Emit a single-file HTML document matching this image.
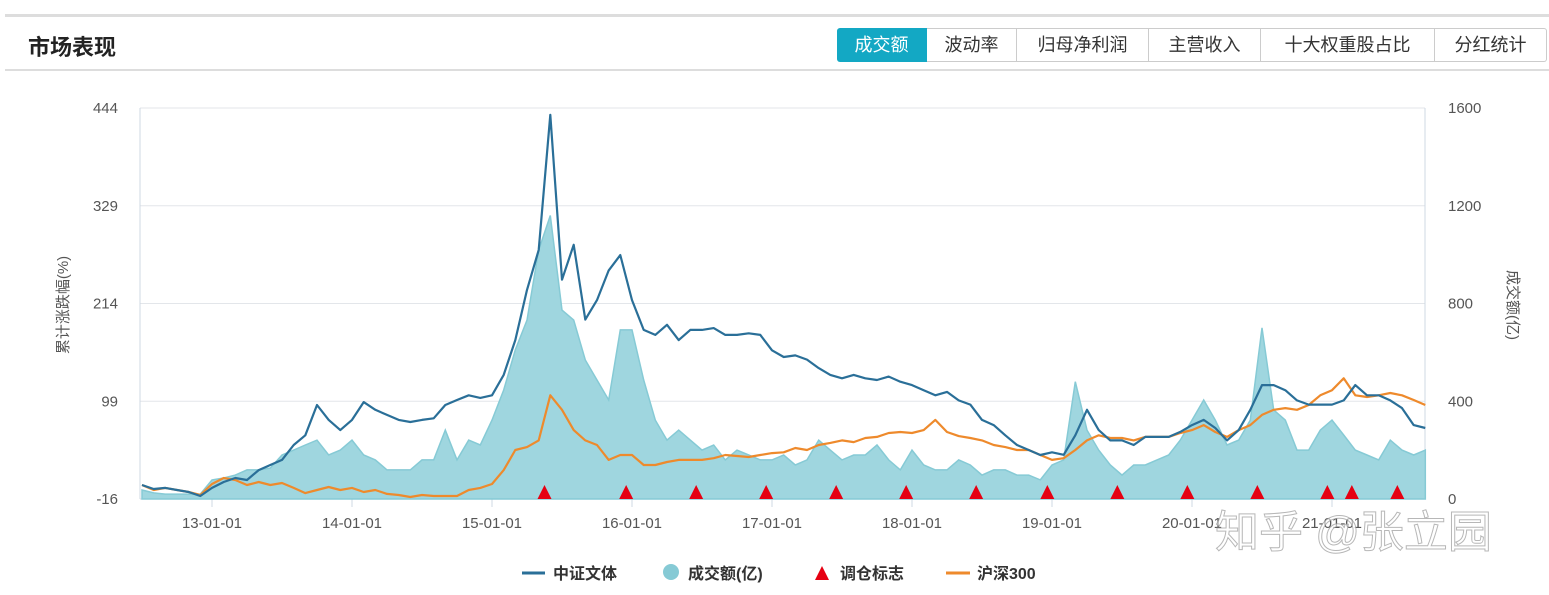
<!DOCTYPE html>
<html><head><meta charset="utf-8">
<style>
body{margin:0;width:1549px;height:595px;background:#fff;overflow:hidden;font-family:"Liberation Sans","Noto Sans CJK SC",sans-serif;position:relative}
.topline{position:absolute;left:5px;right:0;top:14px;height:3px;background:#ddd}
.botline{position:absolute;left:5px;right:0;top:69px;height:2px;background:#ddd}
.title{position:absolute;left:28px;top:30px;font-size:22px;font-weight:bold;color:#222}
.tabs{position:absolute;left:837px;top:28px;display:flex;height:34px}
.tab{border:1px solid #ccc;border-left:none;font-size:18px;color:#333;line-height:32px;text-align:center;box-sizing:border-box}
.tab.active{background:#13a8c4;color:#fff;border-color:#13a8c4;border-radius:3px 0 0 3px}
svg{position:absolute;left:0;top:0}
</style></head><body>
<div class="topline"></div>
<div class="title">市场表现</div>
<div class="tabs">
<div class="tab active" style="width:90px">成交额</div>
<div class="tab" style="width:90px">波动率</div>
<div class="tab" style="width:132px">归母净利润</div>
<div class="tab" style="width:112px">主营收入</div>
<div class="tab" style="width:174px">十大权重股占比</div>
<div class="tab" style="width:112px;border-radius:0 3px 3px 0">分红统计</div>
</div>
<div class="botline"></div>
<svg id="chart" width="1549" height="595"></svg>
<script>
const leftTicks=[-16,99,214,329,444];
const rightTicks=[0,400,800,1200,1600];
const xTickLabels=["13-01-01","14-01-01","15-01-01","16-01-01","17-01-01","18-01-01","19-01-01","20-01-01","21-01-01"];
const xTickMonths=[6,18,30,42,54,66,78,90,102];
// month index 0 = 2012-07
const indexSeries=[0.5,-4.2,-3,-5.4,-7.8,-12.5,-3,4,8.7,6.4,18,24,30,47.5,59,94.6,77,65,77,98,89,83,77,74.6,77,79,94.6,100.5,106,103,106,130,171,230,277,436,242,283,195,218,253,271,218,183,177,189,171,183,183,185,177,177,179,177,159,151,153,148,138,130,126,130,126,124,128,122,118,112,106,110,100,95,77,71,59,47.5,41.6,35.8,39,36,59,89,65,53,53,47.5,57,57,57,63,71,77,67.5,53,65,89,118,118,112,100,95,95,95,100,118,106,106,100,91,71,67.5];
const hs300Series=[0.5,-5.4,-3,-5.4,-7.8,-11.3,1.6,8.7,6.4,0.5,4,0.5,2.8,-3,-9,-5.4,-1.9,-5.4,-3,-7.8,-5.4,-10,-11.3,-13.6,-11.3,-12.5,-12.5,-12.5,-5.4,-3,1.6,18,41.6,45,53,106,89,65,53,47.5,30,35.8,35.8,24,24,27.5,30,30,30,32,35.8,34.6,33.4,35.8,38,39,44,41.6,47.5,50,53,51,55.8,57,61.6,62.8,61.6,65,77,62.8,58,55.8,53,47.5,45,41.6,41.6,35.8,30,32,41.6,53,59,55.8,55.8,53,57,57,57,61.6,65,71,62.8,57,65,71,83,89,91,89,94.6,106,112,126,106,104,106,108.7,106,100.5,94.6];
const volumeSeries=[37,25,20,20,20,20,78,86,98,119,119,127,180,200,221,241,180,200,241,180,160,119,119,119,160,160,282,160,241,221,323,446,610,732,1019,1160,773,732,569,487,405,692,692,487,323,241,282,241,200,221,160,200,180,160,160,180,139,160,241,200,160,180,180,221,160,119,200,139,119,119,160,139,98,119,119,98,98,78,139,160,480,282,200,139,98,139,139,160,180,241,323,405,323,221,241,323,700,364,323,200,200,282,323,262,200,180,160,241,200,180,200];
const rebalanceMonths=[34.5,41.5,47.5,53.5,59.5,65.5,71.5,77.6,83.6,89.6,95.6,101.6,103.7,107.6];

const L=140,R=1425,T=108,B=499;
const xOf=m=>212+(m-6)*(140/12);
const yL=v=>B-(v-(-16))/(444-(-16))*(B-T);
const yR=v=>B-v/1600*(B-T);
const svg=document.getElementById('chart');
const NS='http://www.w3.org/2000/svg';
function mk(tag,attrs,parent){const e=document.createElementNS(NS,tag);for(const k in attrs)e.setAttribute(k,attrs[k]);(parent||svg).appendChild(e);return e;}

// grid
leftTicks.forEach((t,i)=>{
 const y=yL(t);
 const g=mk('line',{x1:L,x2:R,y1:y,y2:y,stroke:'#e3e6ea','stroke-width':1});
 
 
 const tl=mk('text',{x:118,y:y+5,'text-anchor':'end','font-size':15,fill:'#555'});
 tl.textContent=t;
 
 
});
rightTicks.forEach(t=>{
 const tr=mk('text',{x:1448,y:yR(t)+5,'font-size':15,fill:'#555'});
 tr.textContent=t;
 
 
});
const ax1=mk('line',{x1:L,x2:L,y1:T,y2:B,stroke:'#cfd8e3'});


const ax2=mk('line',{x1:R,x2:R,y1:T,y2:B,stroke:'#cfd8e3'});


const ax3=mk('line',{x1:L,x2:R,y1:B,y2:B,stroke:'#cfd8e3'});


xTickLabels.forEach((lab,i)=>{
 const x=xOf(xTickMonths[i]);
 const tk=mk('line',{x1:x,x2:x,y1:B,y2:B+8,stroke:'#cfd8e3'});
 
 
 const t=mk('text',{x:x,y:528,'text-anchor':'middle','font-size':15,fill:'#555'});
 t.textContent=lab;
 
 
});
// volume area
let d='M'+xOf(0)+','+B;
volumeSeries.forEach((v,i)=>{d+=' L'+xOf(i).toFixed(1)+','+yR(v).toFixed(1);});
d+=' L'+xOf(volumeSeries.length-1)+','+B+' Z';
const area=mk('path',{d:d,fill:'#9fd6df',stroke:'#86cad5','stroke-width':1.5});


function line(arr,col,name){
 const p=mk('path',{d:arr.map((v,i)=>(i?'L':'M')+xOf(i).toFixed(1)+','+yL(v).toFixed(1)).join(' '),fill:'none',stroke:col,'stroke-width':2.2,'stroke-linejoin':'round'});
 
 
}
line(hs300Series,'#ee8a2c','hs300-line');
line(indexSeries,'#2a6f98','index-line');
rebalanceMonths.forEach(m=>{
 const x=xOf(m);
 const tri=mk('polygon',{points:`${x-7},${B} ${x+7},${B} ${x},${B-14}`,fill:'#e60012'});
 
 
});
// axis titles
const yt=mk('text',{x:0,y:0,transform:'translate(68,305) rotate(-90)','text-anchor':'middle','font-size':15,fill:'#555'});
yt.textContent='累计涨跌幅(%)';


const yt2=mk('text',{x:0,y:0,transform:'translate(1508,305) rotate(90)','text-anchor':'middle','font-size':15,fill:'#555'});
yt2.textContent='成交额(亿)';


// legend
const lg=mk('g',{});


const e1=mk('line',{x1:522,x2:545,y1:573,y2:573,stroke:'#2a6f98','stroke-width':3},lg);


const t1=mk('text',{x:553,y:579,'font-size':16,'font-weight':'bold',fill:'#333'},lg);t1.textContent='中证文体';


const e2=mk('circle',{cx:671,cy:572,r:8,fill:'#86cad5'},lg);


const t2=mk('text',{x:688,y:579,'font-size':16,'font-weight':'bold',fill:'#333'},lg);t2.textContent='成交额(亿)';


const e3=mk('polygon',{points:'815,580 829,580 822,566',fill:'#e60012'},lg);


const t3=mk('text',{x:840,y:579,'font-size':16,'font-weight':'bold',fill:'#333'},lg);t3.textContent='调仓标志';


const e4=mk('line',{x1:946,x2:970,y1:573,y2:573,stroke:'#ee8a2c','stroke-width':3},lg);


const t4=mk('text',{x:977,y:579,'font-size':16,'font-weight':'bold',fill:'#333'},lg);t4.textContent='沪深300';


// watermark
const wm=mk('text',{x:1215,y:547,'font-size':44,fill:'#ffffff','fill-opacity':0.55,stroke:'#999','stroke-width':1,'stroke-opacity':0.7});
wm.textContent='知乎 @张立园';


</script>
</body></html>
